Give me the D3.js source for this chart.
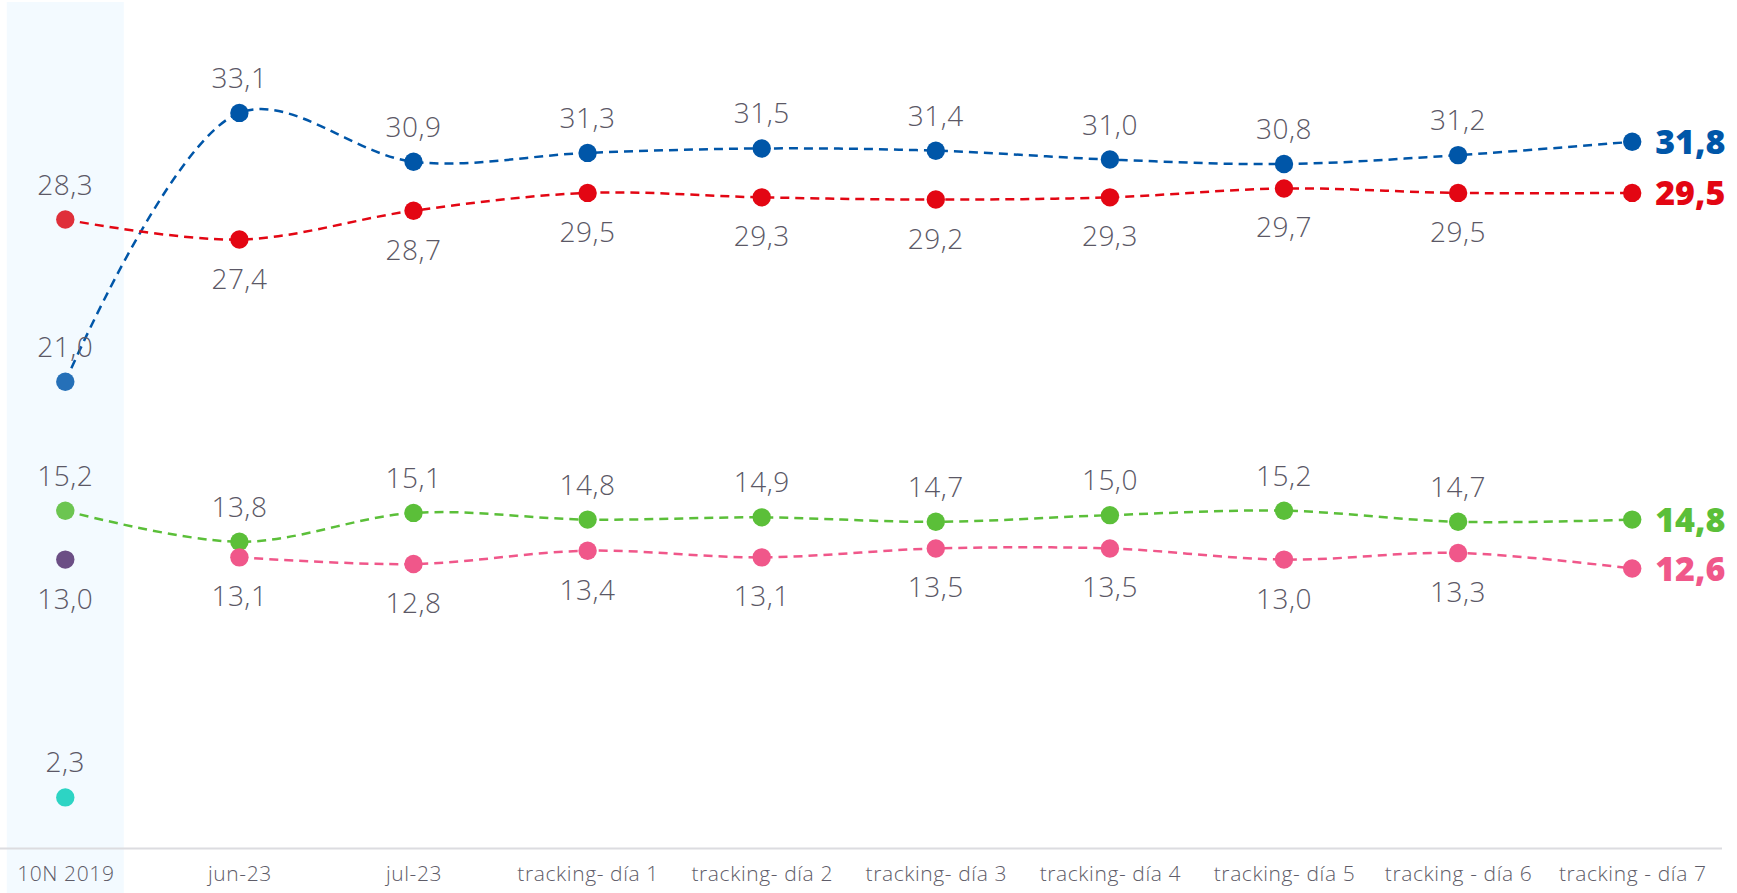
<!DOCTYPE html>
<html>
<head>
<meta charset="utf-8">
<script src="https://cdn.jsdelivr.net/npm/d3@7"></script>
<style>
  html, body { margin: 0; padding: 0; background: #fff; }
  svg { display: block; }
</style>
</head>
<body>
<svg id="chart" width="1737" height="893"></svg>
<script>
// ---- data ----
const categories = ["10N 2019", "jun-23", "jul-23", "tracking- día 1", "tracking- día 2", "tracking- día 3", "tracking- día 4", "tracking- día 5", "tracking - día 6", "tracking - día 7"];
const blueValues  = [21.0, 33.1, 30.9, 31.3, 31.5, 31.4, 31.0, 30.8, 31.2, 31.8];
const redValues   = [28.3, 27.4, 28.7, 29.5, 29.3, 29.2, 29.3, 29.7, 29.5, 29.5];
const greenValues = [15.2, 13.8, 15.1, 14.8, 14.9, 14.7, 15.0, 15.2, 14.7, 14.8];
const pinkValues  = [null, 13.1, 12.8, 13.4, 13.1, 13.5, 13.5, 13.0, 13.3, 12.6];
const purpleValues = [13.0, null, null, null, null, null, null, null, null, null];
const cyanValues   = [2.3, null, null, null, null, null, null, null, null, null];

const series = [
  { values: blueValues,  color: "#0056a8", firstColor: "#2570b8", label: "above", line: true },
  { values: redValues,   color: "#e30613", firstColor: "#df2f3a", label: "below", firstLabel: "above", line: true },
  { values: greenValues, color: "#5bbf39", firstColor: "#6cc551", label: "above", line: true },
  { values: pinkValues,  color: "#f0578a", firstColor: "#f0578a", label: "below", line: true },
  { values: purpleValues, color: "#6b4e85", firstColor: "#6b4e85", label: "below", line: false },
  { values: cyanValues,  color: "#2dd4c4", firstColor: "#2dd4c4", label: "above", line: false }
];

// ---- layout ----
const svg = d3.select("#chart");
const x = d3.scalePoint().domain(categories).range([65.3, 1632.2]);
const y = d3.scaleLinear().domain([0, 38]).range([848.5, 4]);
const fmt = v => d3.format(".1f")(v).replace(".", ",");
const font = "'Open Sans', 'Noto Sans', sans-serif";

// highlighted band for first category
const bandW = 117;
svg.append("rect")
  .attr("x", x(categories[0]) - bandW / 2)
  .attr("y", 2)
  .attr("width", bandW)
  .attr("height", 891)
  .attr("fill", "#f3faff");

// axis
const axis = svg.append("g").attr("transform", `translate(0,${y(0)})`)
  .call(d3.axisBottom(x).tickSize(0).tickPadding(20));
axis.select(".domain").remove();
axis.append("line").attr("x1", 0).attr("x2", 1722).attr("y1", 0).attr("y2", 0)
  .attr("stroke", "#dcdce0").attr("stroke-width", 2);
axis.selectAll("text")
  .attr("font-family", font)
  .attr("font-size", 21)
  .attr("font-weight", 300)
  .attr("letter-spacing", 0.6)
  .attr("fill", "#5e5c68")
  .attr("dy", "0.6em");

// lines
const lineGen = d3.line()
  .defined(d => d.v != null)
  .x(d => x(d.c))
  .y(d => y(d.v))
  .curve(d3.curveCatmullRom.alpha(0.5));

series.forEach(s => {
  const pts = categories.map((c, i) => ({ c, v: s.values[i], i }));
  if (s.line) {
    svg.append("path")
      .datum(pts)
      .attr("d", lineGen)
      .attr("fill", "none")
      .attr("stroke", s.color)
      .attr("stroke-width", 2.5)
      .attr("stroke-dasharray", "9,6");
  }
});

series.forEach(s => {
  const pts = categories.map((c, i) => ({ c, v: s.values[i], i })).filter(d => d.v != null);
  svg.append("g").selectAll("circle").data(pts).join("circle")
    .attr("cx", d => x(d.c))
    .attr("cy", d => y(d.v))
    .attr("r", 9.2)
    .attr("fill", d => d.i === 0 ? s.firstColor : s.color);

  const last = categories.length - 1;
  // value labels (all but last)
  svg.append("g").selectAll("text").data(pts.filter(d => d.i !== last)).join("text")
    .attr("x", d => x(d.c))
    .attr("y", d => {
      const pos = (d.i === 0 && s.firstLabel) ? s.firstLabel : s.label;
      return pos === "above" ? y(d.v) - 25 : y(d.v) + 49;
    })
    .attr("text-anchor", "middle")
    .attr("font-family", font)
    .attr("font-size", 28)
    .attr("font-weight", 300)
    .attr("letter-spacing", 0.5)
    .attr("fill", "#5b5866")
    .text(d => fmt(d.v));

  // end label
  const endPt = pts.find(d => d.i === last);
  if (endPt) {
    svg.append("text")
      .attr("x", x(endPt.c) + 23)
      .attr("y", y(endPt.v))
      .attr("dy", "0.36em")
      .attr("font-family", font)
      .attr("font-weight", 800)
      .attr("font-size", 34)
      .attr("fill", s.color)
      .text(fmt(endPt.v));
  }
});
</script>
</body>
</html>
